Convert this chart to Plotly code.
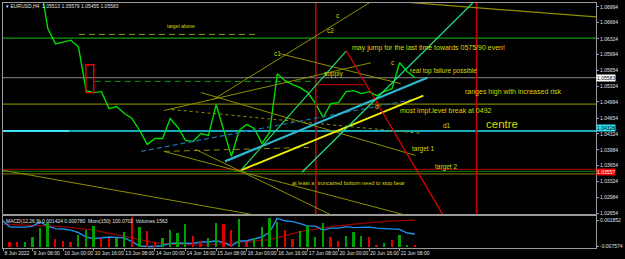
import plotly.graph_objects as go

# ---------------- data (x = H4 bar index, 0 = 8 Jun 2022 16:00) ----------------
X_MIN, X_MAX = 0.13, 77.68
Y_MIN, Y_MAX = 1.02633, 1.07078

close_bars = list(range(5, 55))
close = [1.07497, 1.06533, 1.06218, 1.06260, 1.06296, 1.06155, 1.05233, 1.05191, 1.05212, 1.04855,
         1.04897, 1.04751, 1.04646, 1.04394, 1.04101, 1.04226, 1.04226, 1.04646, 1.04457, 1.04185,
         1.04164, 1.04331, 1.04289, 1.04939, 1.04394, 1.03849, 1.04394, 1.04520, 1.04436, 1.04122,
         1.04352, 1.05589, 1.05443, 1.05359, 1.05296, 1.05191, 1.04960, 1.04667, 1.04960, 1.04981,
         1.05212, 1.05233, 1.05170, 1.05212, 1.05128, 1.05212, 1.05275, 1.05820, 1.05631, 1.05505]

vol_bars = list(range(1, 55))
volume = [5300, 5300, 5300, 10300, 18700, 23700, 7700, 6300, 5300, 12000,
          17000, 21000, 8700, 8700, 8700, 15300, 30300, 19700, 16000, 5300,
          8700, 17000, 13700, 23000, 11300, 6300, 8700, 24300, 23000, 17000,
          27700, 5300, 8700, 20300, 28700, 25300, 17000, 7700, 16300, 21000,
          10300, 23700, 10300, 6300, 11300, 15300, 11300, 10300, 2000, 4300,
          7000, 12300, 2000, 1563]
vol_dir = ("dduuuu" "ddd" "uuu" "dd" "uu" "d" "u" "dd" "uuuu" "dd" "uu" "dd" "u" "d" "uuuu"
           "dd" "uuuu" "dd" "uuu" "dd" "u" "d" "uu" "d")

macd_bars = list(range(0, 55))
macd = [0.00185, -0.00058, -0.00069, -0.00069, -0.00033, 0.00113, -0.00033, -0.00123, -0.00141, -0.00178,
        -0.00268, -0.00431, -0.00493, -0.00467, -0.00431, -0.00442, -0.00460, -0.00602, -0.00757, -0.00776,
        -0.00776, -0.00739, -0.00660, -0.00649, -0.00649, -0.00667, -0.00612, -0.00612, -0.00565, -0.00631,
        -0.00757, -0.00576, -0.00565, -0.00504, -0.00431, -0.00250, 0.00247, 0.00160, 0.00131, 0.00058,
        -0.00033, -0.00033, -0.00178, -0.00105, -0.00105, -0.00051, -0.00087, -0.00080, -0.00069, -0.00105,
        -0.00123, -0.00141, -0.00152, -0.00286, -0.00323]
sig_bars = [0, 4, 8, 12, 17, 20, 23, 27, 30, 35, 39, 43, 47, 51, 54]
signal = [0.00040, 0.00004, -0.00051, -0.00178, -0.00468, -0.00631, -0.00710, -0.00721, -0.00649,
          -0.00522, -0.00232, -0.00051, 0.00069, 0.00160, 0.00185]

price_ticks = [1.06994, 1.06664, 1.06324, 1.05994, 1.05654, 1.05324, 1.04994,
               1.04654, 1.04324, 1.03984, 1.03654, 1.03324, 1.02984, 1.02654]
macd_ticks = [0.001852, -0.007574]
macd_tick_text = ["0.001852", "-0.007574"]

time_ticks = [0.2, 4, 8, 12, 16, 20, 24, 28, 32, 36, 40, 44, 48, 52]
time_labels = ["8 Jun 2022", "9 Jun 08:00", "10 Jun 00:00", "10 Jun 16:00", "13 Jun 08:00",
               "14 Jun 00:00", "14 Jun 16:00", "15 Jun 08:00", "16 Jun 00:00", "16 Jun 16:00",
               "17 Jun 08:00", "20 Jun 00:00", "20 Jun 16:00", "21 Jun 08:00"]

# horizontal levels: name, price, from bar, to bar
lvl_names = ["target_above", "green_res", "current", "green_dash", "red_short", "ranges_high",
             "centre", "centre_hi", "t2_red", "t2_green", "support"]
lvl_price = [1.06417, 1.06338, 1.05505, 1.05428, 1.05359, 1.04950,
             1.04384, 1.04384, 1.03577, 1.03535, 1.03482]
lvl_x0 = [10.06, X_MIN, X_MIN, 12.13, 41.16, X_MIN, X_MIN, X_MIN, X_MIN, X_MIN, X_MIN]
lvl_x1 = [33.16, X_MAX, X_MAX, 41.16, 47.23, X_MAX, X_MAX, 8.77, X_MAX, X_MAX, X_MAX]

# vertical time markers (bar index)
vlines = [41.03, 62.06]

# trendlines: name, bar0, price0, bar1, price1
tl_names = ["La", "Lc", "Lb", "dash_h", "target1", "dotted1", "supply", "c2", "c1", "topright",
            "bluedash", "cyan", "yellow", "green1", "red", "green2"]
tl_b0 = [0.13, 21.16, 25.29, 21.16, 26.06, 22.19, 21.16, 27.61, 36.39, 50.84,
         18.19, 29.16, 31.23, 31.23, 45.03, 39.23]
tl_p0 = [1.03556, 1.03954, 1.03996, 1.03954, 1.05191, 1.04835, 1.04814, 1.05044, 1.06009, 1.07120,
         1.03954, 1.03744, 1.03556, 1.03556, 1.06072, 1.03514]
tl_b1 = [33.16, 52.77, 43.10, 40.13, 54.06, 54.97, 48.26, 48.00, 52.13, 77.68,
         53.68, 55.61, 55.10, 45.03, 57.68, 61.55]
tl_p1 = [1.02612, 1.02612, 1.02612, 1.04038, 1.03870, 1.04331, 1.05820, 1.07078, 1.05380, 1.06784,
         1.05044, 1.05505, 1.05128, 1.06072, 1.02612, 1.07078]

# red box
box_b = [10.97, 12.0]
box_p = [1.05191, 1.05778]

# text notes
note_text = ["target above", "c", "c2", "c1", "may jump for the last time towards 0575/90 even!", "c",
             "real top failure possible", "supply", "ranges high with increased risk", "d",
             "most impt.level break at 0492", "d1", "centre", "target 1", "target 2",
             "at least a  truncatred bottom need to stop bear"]
note_b = [23.35, 44.0, 43.0, 36.0, 45.55, 51.1, 53.03, 41.8, 60.26, 49.0, 51.74, 58.2, 62.97, 53.42, 56.39, 37.68]
note_p = [1.06596, 1.06805, 1.06491, 1.06009, 1.06134, 1.05820, 1.05652, 1.05589, 1.05212, 1.04897,
          1.04814, 1.04499, 1.04541, 1.03996, 1.03618, 1.03283]
note_size = [5, 6.5, 6.5, 6.5, 7, 6.5, 6.5, 6.5, 7, 6.5, 7, 6.5, 11.5, 6.5, 6.5, 5.5]

# price boxes on the right scale (text, vertical position)
box_labels = ["1.05583", "1.04328", "1.03557"]
box_label_price = [1.05505, 1.04447, 1.03524]

# ---------------- styles ----------------
OLIVE = "#8f8f00"
TXT = "#d8d800"
GRAY = "#9a9a9a"
FONT = "Liberation Sans"

lvl_style = {
    "target_above": dict(color="#9a9a10", width=1, dash="6px,4px"),
    "green_res": dict(color="#109a10", width=1.2),
    "current": dict(color="#8a8a8a", width=1),
    "green_dash": dict(color="#109a10", width=1, dash="6px,4px"),
    "red_short": dict(color="#cc0000", width=1),
    "ranges_high": dict(color="#7c7c00", width=1.2),
    "centre": dict(color="#1aa9b8", width=2),
    "centre_hi": dict(color="#40e4f4", width=2),
    "t2_red": dict(color="#b00000", width=1),
    "t2_green": dict(color="#0a6a0a", width=1.2),
    "support": dict(color="#6a6a00", width=1.2),
}
tl_style = {
    "La": dict(color=OLIVE, width=1),
    "Lc": dict(color=OLIVE, width=1),
    "Lb": dict(color=OLIVE, width=1),
    "dash_h": dict(color=OLIVE, width=1, dash="6px,4px"),
    "target1": dict(color=OLIVE, width=1),
    "dotted1": dict(color=OLIVE, width=1, dash="dot"),
    "supply": dict(color=OLIVE, width=1),
    "c2": dict(color=OLIVE, width=1),
    "c1": dict(color=OLIVE, width=1),
    "topright": dict(color=OLIVE, width=1.2),
    "bluedash": dict(color="#1f6ea8", width=1.2, dash="5px,3px"),
    "cyan": dict(color="#2cb8d0", width=2.2),
    "yellow": dict(color="#f0f000", width=1.8),
    "green1": dict(color="#22dd66", width=1.2),
    "red": dict(color="#dd0000", width=1.3),
    "green2": dict(color="#22e08a", width=1.2),
}

fig = go.Figure()

fig.add_trace(go.Scatter(x=close_bars, y=close, mode="lines",
                         line=dict(color="#00dd00", width=1.4), xaxis="x", yaxis="y",
                         hoverinfo="skip"))

vol_colors = ["#00a000" if d == "u" else "#e00000" for d in vol_dir]
fig.add_trace(go.Bar(x=vol_bars, y=volume, marker=dict(color=vol_colors, line=dict(width=0)),
                     width=0.24, xaxis="x2", yaxis="y3", hoverinfo="skip"))
fig.add_trace(go.Scatter(x=sig_bars, y=signal, mode="lines", line=dict(color="#9a0000", width=1.2),
                         xaxis="x2", yaxis="y2", hoverinfo="skip"))
fig.add_trace(go.Scatter(x=macd_bars, y=macd, mode="lines", line=dict(color="#2090f0", width=1.4),
                         xaxis="x2", yaxis="y2", hoverinfo="skip"))

shapes = []
for n, p, a, b in zip(lvl_names, lvl_price, lvl_x0, lvl_x1):
    shapes.append(dict(type="line", xref="x", yref="y", x0=a, x1=b, y0=p, y1=p,
                       line=lvl_style[n], layer="below"))
for v in vlines:
    shapes.append(dict(type="line", xref="x", yref="y domain", x0=v, x1=v, y0=0, y1=1,
                       line=dict(color="#c80000", width=1.6)))
for n, b0, p0, b1, p1 in zip(tl_names, tl_b0, tl_p0, tl_b1, tl_p1):
    shapes.append(dict(type="line", xref="x", yref="y", x0=b0, y0=p0, x1=b1, y1=p1,
                       line=tl_style[n]))
shapes.append(dict(type="rect", xref="x", yref="y", x0=box_b[0], x1=box_b[1],
                   y0=box_p[0], y1=box_p[1], line=dict(color="#ee0000", width=1.4)))

annotations = []
for t, b, p, s in zip(note_text, note_b, note_p, note_size):
    anchor = "center" if len(t) <= 2 or t == "target above" else "left"
    annotations.append(dict(x=b, y=p, xref="x", yref="y", text=t, showarrow=False,
                            xanchor=anchor, yanchor="middle",
                            font=dict(family=FONT, size=s, color=TXT)))
box_styles = [("#ffffff", "#000000"), ("#30e0f0", "#000000"), ("#ee0000", "#ffffff")]
for t, p, (bg, fg) in zip(box_labels, box_label_price, box_styles):
    annotations.append(dict(x=1.0, y=p, xref="paper", yref="y", text=t, showarrow=False,
                            xanchor="left", yanchor="middle", bgcolor=bg, borderpad=0,
                            font=dict(family=FONT, size=5, color=fg)))
annotations.append(dict(x=0.002, y=0.988, xref="paper", yref="paper",
                        text="\u25be EURUSD,H4  1.05513 1.05579 1.05455 1.05583",
                        showarrow=False, xanchor="left", yanchor="middle",
                        font=dict(family=FONT, size=5, color="#e0e0e0")))
annotations.append(dict(x=0.002, y=0.110, xref="paper", yref="paper",
                        text="MACD(12,26,9) 0.001424 0.000780  Mom(150) 100.0702  Volumes 1563",
                        showarrow=False, xanchor="left", yanchor="middle",
                        font=dict(family=FONT, size=5, color="#e0e0e0")))

axis_common = dict(showgrid=False, zeroline=False, showline=True, linecolor=GRAY, linewidth=1,
                   mirror=True)
fig.update_layout(
    width=625, height=259,
    margin=dict(l=2, r=22, t=2, b=11),
    paper_bgcolor="#000000", plot_bgcolor="#000000",
    showlegend=False, bargap=0,
    font=dict(family=FONT, size=5, color="#e0e0e0"),
    xaxis=dict(domain=[0, 1], anchor="y", range=[X_MIN, X_MAX], showticklabels=False,
               ticks="", **axis_common),
    xaxis2=dict(domain=[0, 1], anchor="y2", range=[X_MIN, X_MAX], matches="x",
                tickvals=time_ticks, ticktext=time_labels, ticks="outside", ticklen=2,
                tickcolor=GRAY, ticklabelposition="outside right", tickangle=0,
                tickfont=dict(family=FONT, size=5, color="#e0e0e0"), **axis_common),
    yaxis=dict(domain=[0.1382, 1], anchor="x", side="right", range=[Y_MIN, Y_MAX],
               tickvals=price_ticks, ticktext=[f"{v:.5f}" for v in price_ticks],
               ticks="outside", ticklen=2, tickcolor=GRAY,
               tickfont=dict(family=FONT, size=5, color="#e0e0e0"), **axis_common),
    yaxis2=dict(domain=[0, 0.1301], anchor="x2", side="right", range=[-0.0083, 0.0033],
                tickvals=macd_ticks, ticktext=macd_tick_text, ticks="outside", ticklen=2,
                tickcolor=GRAY, tickfont=dict(family=FONT, size=5, color="#e0e0e0"),
                **axis_common),
    yaxis3=dict(overlaying="y2", anchor="x2", range=[-1000, 31000], visible=False),
    shapes=shapes,
    annotations=annotations,
)

fig.write_html("out.html")
